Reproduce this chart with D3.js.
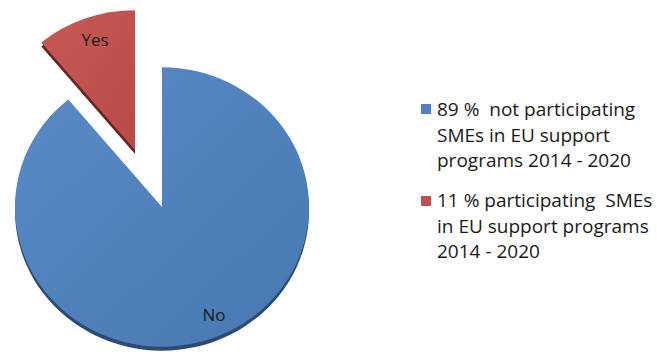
<!DOCTYPE html>
<html>
<head>
<meta charset="utf-8">
<script src="https://cdn.jsdelivr.net/npm/d3@7"></script>
<style>
  html, body { margin: 0; padding: 0; background: #fff; }
  svg { display: block; }
  text { font-family: "Open Sans", "Liberation Sans", Arial, sans-serif; fill: #1a1a1a; }
</style>
</head>
<body>
<svg id="chart" width="657" height="354"></svg>
<script>
// Survey share of SMEs in EU support programmes 2014 - 2020
const categories = ["No", "Yes"];
const values = [89, 11];
const legendLines = [
  ["89 %  not participating", "SMEs in EU support", "programs 2014 - 2020"],
  ["11 % participating  SMEs", "in EU support programs", "2014 - 2020"]
];

const colors = ["#4f81bd", "#c0504d"];
const sideColors = ["#2c4b74", "#6a2321"];

const svg = d3.select("#chart");

// gradients for the top faces
const defs = svg.append("defs");
const grads = [["#5a8bc7", "#4878b1"], ["#c75a57", "#b84a47"]];
grads.forEach((g, i) => {
  const lg = defs.append("linearGradient").attr("id", "face" + i)
    .attr("x1", "0%").attr("y1", "0%").attr("x2", "100%").attr("y2", "100%");
  lg.append("stop").attr("offset", "0%").attr("stop-color", g[0]);
  lg.append("stop").attr("offset", "100%").attr("stop-color", g[1]);
});

const cx = 162, cy = 207, r = 147, tilt = 0.95, depth = 4;
const explode = [{ dx: 0, dy: 0 }, { dx: -27, dy: -57 }];

const pie = d3.pie().sort(null).value(d => d);
const arcs = pie(values);
const arc = d3.arc().innerRadius(0).outerRadius(r);

const slices = svg.selectAll("g.slice").data(arcs).join("g")
  .attr("class", "slice")
  .attr("transform", (d, i) => `translate(${cx + explode[i].dx},${cy + explode[i].dy})`);

// side (depth) of each slice
slices.append("path")
  .attr("transform", `translate(0,${depth}) scale(1,${tilt})`)
  .attr("d", arc)
  .attr("fill", (d, i) => sideColors[i]);

// top face
slices.append("path")
  .attr("transform", `scale(1,${tilt})`)
  .attr("d", arc)
  .attr("fill", (d, i) => `url(#face${i})`);

// slice labels
const labelPos = [{ x: 214, y: 321 }, { x: 95, y: 46 }];
slices.append("text")
  .attr("x", (d, i) => labelPos[i].x - cx - explode[i].dx)
  .attr("y", (d, i) => labelPos[i].y - cy - explode[i].dy)
  .attr("text-anchor", "middle")
  .attr("font-size", 17)
  .text((d, i) => categories[i]);

// legend
const legendX = 421, legendTops = [104, 196], baselines = [[116, 141.5, 167], [207, 232.5, 258]];
const lg = svg.selectAll("g.legend").data(legendLines).join("g").attr("class", "legend");
lg.append("rect")
  .attr("x", legendX).attr("y", (d, i) => legendTops[i])
  .attr("width", 10).attr("height", 10)
  .attr("fill", (d, i) => colors[i]);
lg.each(function (lines, i) {
  d3.select(this).selectAll("text").data(lines).join("text")
    .attr("x", 437)
    .attr("y", (t, j) => baselines[i][j])
    .attr("font-size", 19)
    .style("white-space", "pre")
    .text(t => t);
});
</script>
</body>
</html>
